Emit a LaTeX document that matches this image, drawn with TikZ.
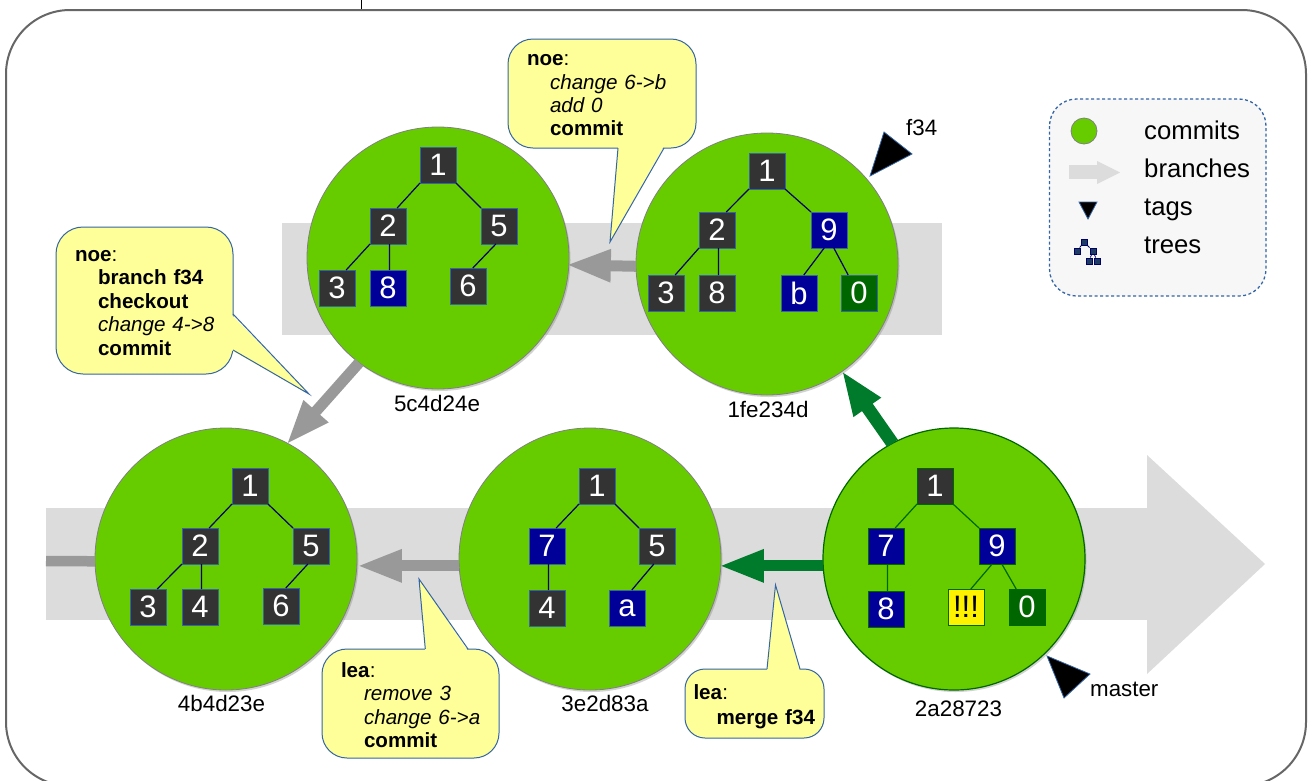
\documentclass[tikz,border=0pt]{standalone}
\usepackage{fontspec}
\setmainfont{Liberation Sans}
\usetikzlibrary{arrows.meta,shadows}
\definecolor{commitgreen}{HTML}{66CC00}
\definecolor{bandgray}{HTML}{DCDCDC}
\definecolor{arrowgray}{HTML}{999999}
\definecolor{arrowgreen}{HTML}{007A2B}
\definecolor{darkbox}{HTML}{333333}
\definecolor{bluebox}{HTML}{000099}
\definecolor{greenbox}{HTML}{006600}
\definecolor{edgeblue}{HTML}{3465A4}
\definecolor{bubbleyellow}{HTML}{FFFF99}
\definecolor{treeline}{HTML}{000066}
\definecolor{framegray}{HTML}{666666}
\tikzset{
  commit/.style={circle,fill=commitgreen,draw=gray,line width=.8pt,minimum size=262pt,inner sep=0pt,outer sep=0pt,
    drop shadow={shadow xshift=1.5pt,shadow yshift=-2pt,opacity=.35}},
  headcommit/.style={commit,draw=greenbox,line width=1.2pt},
  tnode/.style={rectangle,minimum size=36pt,inner sep=0pt,outer sep=0pt,line width=1pt,text=white,
    font=\fontsize{31}{31}\selectfont},
  darknode/.style={tnode,fill=darkbox,draw=edgeblue},
  bluenode/.style={tnode,fill=bluebox,draw=edgeblue},
  gbox/.style={tnode,fill=greenbox,draw=edgeblue},
  hdark/.style={tnode,fill=darkbox,draw=greenbox},
  hblue/.style={tnode,fill=bluebox,draw=greenbox},
  hgreen/.style={tnode,fill=greenbox,draw=greenbox},
  hyellow/.style={tnode,fill=yellow,draw=greenbox,text=black},
  tedge/.style={draw=treeline,line width=1.2pt},
  hedge/.style={draw=greenbox,line width=1.2pt},
  caplabel/.style={anchor=base,inner sep=0pt,font=\fontsize{22.4}{24}\selectfont},
  leglabel/.style={anchor=base west,inner sep=0pt,font=\fontsize{25.7}{28}\selectfont},
  taglabel/.style={anchor=base west,inner sep=0pt,font=\fontsize{22.3}{24}\selectfont},
  graylink/.style={draw=arrowgray,line width=11pt,-{Triangle[length=45pt,width=30pt]}},
  greenlink/.style={draw=arrowgreen,line width=11pt,-{Triangle[length=45pt,width=30pt]}},
  bubble/.style={rectangle,rounded corners=25pt,draw=edgeblue,fill=bubbleyellow,line width=1pt,align=left,
    inner ysep=0pt,font=\fontsize{20.6}{23.4}\selectfont},
  bubbletail/.style={fill=bubbleyellow},
  tailedge/.style={draw=edgeblue,line width=1pt},
  tagmark/.style={fill=black,draw=edgeblue,line width=.8pt},
  bandfill/.style={fill=bandgray},
  mini/.style={rectangle,minimum size=6.5pt,inner sep=0pt,fill=edgeblue!60!black,draw=treeline,line width=.4pt},
}
\newcommand{\ind}[1]{\mbox{\hspace*{23pt}#1}}
\newcommand{\toprule}[1]{\rule{0pt}{#1}}
\begin{document}
\begin{tikzpicture}[x=1pt,y=-1pt]
\clip (0,0) rectangle (1312,780);
% frame
\coordinate (topstub) at (361,0);
\coordinate (frametop) at (361,10);
\draw[black,line width=1pt] (topstub) -- (frametop);
\draw[framegray,line width=2pt,fill=white,rounded corners=64pt] (6,10) rectangle (1306,786);
% branches
\fill[bandfill] (282,223) rectangle (942,335);
\fill[bandfill] (46,508) rectangle (1147,620);
\fill[bandfill] (1147,455) -- (1265,564) -- (1147,674) -- cycle;
% commits
\node[commit] (c5c) at (438,258) {};
\node[commit] (c1f) at (767,264) {};
\node[commit] (c4b) at (226,559) {};
\node[commit] (c3e) at (590,559) {};
\node[headcommit] (c2a) at (954,559) {};
% captions
\node[caplabel] (l5c) at (437,411) {5c4d24e};
\node[caplabel] (l1f) at (768,417) {1fe234d};
\node[caplabel] (l4b) at (221.5,711) {4b4d23e};
\node[caplabel] (l3e) at (605,711.5) {3e2d83a};
\node[caplabel] (l2a) at (958.5,716) {2a28723};
% tree 5c4d24e
\node[darknode] (a1) at (438,165) {1};
\node[darknode] (a2) at (388,226) {2};
\node[darknode] (a5) at (499,226) {5};
\node[darknode] (a3) at (337,288) {3};
\node[bluenode] (a8) at (388,288) {8};
\node[darknode] (a6) at (468,286) {6};
\draw[tedge] (a1.south west)--(a2.63) (a1.south east)--(a5.north west) (a2.south west)--(a3.63) (a2.-85)--(a8.85) (a5.-100)--(a6.75);
% tree 1fe234d
\node[darknode] (b1) at (767,171) {1};
\node[darknode] (b2) at (717,230) {2};
\node[bluenode] (b9) at (829,230) {9};
\node[darknode] (b3) at (666,293) {3};
\node[darknode] (b8) at (717,293) {8};
\node[bluenode] (bb) at (799,293) {b};
\node[gbox] (b0) at (859,293) {0};
\draw[tedge] (b1.south west)--(b2.63) (b1.south east)--(b9.north west) (b2.south west)--(b3.63) (b2.-85)--(b8.85) (b9.-105)--(bb.75) (b9.-75)--(b0.121);
% tree 4b4d23e
\node[darknode] (d1) at (250,486) {1};
\node[darknode] (d2) at (200,546) {2};
\node[darknode] (d5) at (311,546) {5};
\node[darknode] (d3) at (148,607) {3};
\node[darknode] (d4) at (200,607) {4};
\node[darknode] (d6) at (281,606) {6};
\draw[tedge] (d1.south west)--(d2.63) (d1.south east)--(d5.north west) (d2.south west)--(d3.63) (d2.-85)--(d4.85) (d5.-100)--(d6.75);
% tree 3e2d83a
\node[darknode] (e1) at (597,486) {1};
\node[bluenode] (e7) at (547,546) {7};
\node[darknode] (e5) at (657,546) {5};
\node[darknode] (e4) at (547,608) {4};
\node[bluenode] (ea) at (627,608) {a};
\draw[tedge] (e1.south west)--(e7.63) (e1.south east)--(e5.north west) (e7.-85)--(e4.85) (e5.-100)--(ea.75);
% tree 2a28723
\node[hdark] (f1) at (935,486) {1};
\node[hblue] (f7) at (886,546) {7};
\node[hblue] (f9) at (997,546) {9};
\node[hblue] (f8) at (886,609) {8};
\node[hyellow] (fx) at (966,607) {!!!};
\node[hgreen] (f0) at (1027,607) {0};
\draw[hedge] (f1.south west)--(f7.63) (f1.south east)--(f9.north west) (f7.-85)--(f8.85) (f9.-105)--(fx.75) (f9.-75)--(f0.121);
% history links
\coordinate (stub) at (46,561);
\draw[draw=arrowgray,line width=10.5pt] (c4b.181) -- (stub);
\draw[graylink,shorten >=-3pt] (c1f.181) -- (c5c.-3.5);
\draw[graylink,shorten >=-2pt] (c5c.233.4) -- (c4b.62);
\draw[graylink] (c3e.183) -- (c4b.-3);
\draw[greenlink,shorten >=-2pt] (c2a.183) -- (c3e.-3);
\draw[greenlink,line width=13pt,shorten >=-1pt] (c2a.118) -- (c1f.-55.6);
% tags
\draw[tagmark] (884,132) -- (912,154) -- (870,176) -- cycle;
\draw[tagmark] (1047,656) -- (1090,674) -- (1064,698) -- cycle;
\node[taglabel] (tf) at (906,135) {f34};
\node[taglabel] (tm) at (1090,696) {master};
% bubbles
\node[bubble,rounded corners=27pt,text width=139pt,inner xsep=19pt,minimum height=147pt] (n1) at (144.5,300.5)
  {\toprule{15.7pt}\textbf{noe}:\\\ind{\textbf{branch f34}}\\\ind{\textbf{checkout}}\\\ind{\textit{change 4->8}}\\\ind{\textbf{commit}}};
\coordinate (n1tip) at (309,394);
\fill[bubbletail] (231,314) -- (n1tip) -- (231,350) -- cycle;
\draw[tailedge] (233,314) -- (n1tip) -- (233,350);
\node[bubble,text width=150pt,inner xsep=19pt,minimum height=109pt] (n2) at (602,93.5)
  {\toprule{14.7pt}\textbf{noe}:\\\ind{\textit{change 6->b}}\\\ind{\textit{add 0}}\\\ind{\textbf{commit}}};
\coordinate (n2tip) at (610,242);
\fill[bubbletail] (618,146) -- (n2tip) -- (664,146) -- cycle;
\draw[tailedge] (618,148) -- (n2tip) -- (664,148);
\node[bubble,text width=139pt,inner xsep=19pt,minimum height=109pt] (n3) at (410.5,703.5)
  {\toprule{17.8pt}\textbf{lea}:\\\ind{\textit{remove 3}}\\\ind{\textit{change 6->a}}\\\ind{\textbf{commit}}};
\coordinate (n3tip) at (419,579);
\fill[bubbletail] (425.3,651) -- (n3tip) -- (468,651) -- cycle;
\draw[tailedge] (425.3,649) -- (n3tip) -- (468,649);
\node[bubble,rounded corners=20pt,text width=122pt,inner xsep=8.5pt,minimum height=69pt] (n4) at (754.5,703.5)
  {\toprule{21.2pt}\textbf{lea}:\\[1.5pt]\ind{\textbf{merge f34}}};
\coordinate (n4tip) at (775.5,585);
\fill[bubbletail] (767,671) -- (n4tip) -- (800,671) -- cycle;
\draw[tailedge] (767,669) -- (n4tip) -- (800,669);
% legend
\draw[edgeblue,fill=black!3,line width=1.3pt,dash pattern=on 3pt off 2.5pt,rounded corners=27pt] (1049.5,99) rectangle (1266,296);
\node[circle,fill=commitgreen,draw=gray,line width=.8pt,minimum size=26pt,inner sep=0pt] (lc) at (1084,131) {};
\fill[bandfill] (1069,165) rectangle (1097,179);
\fill[bandfill] (1097,161) -- (1120,172.5) -- (1097,184) -- cycle;
\draw[tagmark] (1079,202) -- (1097,202) -- (1088,219) -- cycle;
\node[mini] (t1) at (1084,242) {};
\node[mini] (t2) at (1077,251) {};
\node[mini] (t3) at (1093,251) {};
\node[mini] (t4) at (1089,261) {};
\node[mini] (t5) at (1097,261) {};
\draw[treeline,line width=.8pt] (t1)--(t2) (t1)--(t3) (t3)--(t4) (t3)--(t5);
\node[leglabel] (x1) at (1144,139) {commits};
\node[leglabel] (x2) at (1144,177) {branches};
\node[leglabel] (x3) at (1144,215) {tags};
\node[leglabel] (x4) at (1144,253) {trees};
\end{tikzpicture}
\end{document}
